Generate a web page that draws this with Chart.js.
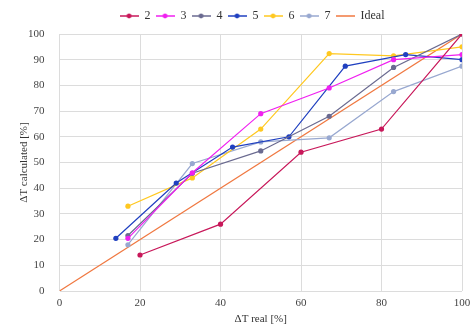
<!DOCTYPE html>
<html>
<head>
<meta charset="utf-8">
<script src="https://cdn.jsdelivr.net/npm/chart.js@4/dist/chart.umd.min.js"></script>
<style>
  html, body { margin: 0; padding: 0; background: #fff; }
  #wrap { width: 473px; height: 325px; }
</style>
</head>
<body>
<div id="wrap"><canvas id="myChart" width="473" height="325"></canvas></div>
<script>
const seriesNames = ["2", "3", "4", "5", "6", "7"];
const seriesColors = ["#c8185a", "#f020f0", "#6a6a90", "#2040c0", "#ffc820", "#98a8d0"];

const x2 = [20, 40, 60, 80, 100];
const y2 = [14, 26, 54, 63, 100];
const x3 = [17, 33, 50, 67, 83, 100];
const y3 = [20.5, 46, 69, 79, 90, 92];
const x4 = [17, 33, 50, 67, 83, 100];
const y4 = [21.6, 45.8, 54.5, 68, 87, 100];
const x5 = [14, 29, 43, 57, 71, 86, 100];
const y5 = [20.5, 42, 56, 60, 87.5, 92, 90];
const x6 = [17, 33, 50, 67, 83, 100];
const y6 = [33, 44, 63, 92.4, 91.5, 95];
const x7 = [17, 33, 50, 67, 83, 100];
const y7 = [18, 49.6, 58, 59.6, 77.6, 87.5];
const idealX = [0, 100];
const idealY = [0, 100];

const xs = [x2, x3, x4, x5, x6, x7];
const ys = [y2, y3, y4, y5, y6, y7];

function pts(xv, yv) {
  return xv.map((v, i) => ({ x: v, y: yv[i] }));
}

// little line-with-dot icon for the legend
function legendIcon(color, withDot) {
  const c = document.createElement("canvas");
  c.width = 19;
  c.height = 8;
  const g = c.getContext("2d");
  g.strokeStyle = color;
  g.lineWidth = 1.5;
  g.beginPath();
  g.moveTo(0, 4);
  g.lineTo(19, 4);
  g.stroke();
  if (withDot) {
    g.fillStyle = color;
    g.beginPath();
    g.arc(9.5, 4, 2.4, 0, Math.PI * 2);
    g.fill();
  }
  return c;
}

const datasets = seriesNames.map((name, i) => ({
  label: name,
  data: pts(xs[i], ys[i]),
  borderColor: seriesColors[i],
  backgroundColor: seriesColors[i],
  borderWidth: 1.2,
  pointRadius: 2.6,
  pointHoverRadius: 3,
  pointBorderWidth: 0,
  icon: legendIcon(seriesColors[i], true),
}));
datasets.push({
  label: "Ideal",
  data: pts(idealX, idealY),
  borderColor: "#f07840",
  backgroundColor: "#f07840",
  borderWidth: 1.2,
  pointRadius: 0,
  icon: legendIcon("#f07840", false),
});

const serif = "'Liberation Serif', 'Times New Roman', serif";

// nudge the legend so it sits over the middle of the plot, like the original
const legendNudge = {
  id: "legendNudge",
  afterLayout(chart) {
    const lg = chart.legend;
    lg.left += 12;
    lg.right += 12;
    lg.top -= 2;
    lg.bottom -= 2;
  },
};

const config = {
  type: "line",
  data: { datasets: datasets },
  options: {
    responsive: false,
    animation: false,
    layout: { padding: { left: 18, right: 11, top: 7, bottom: 0 } },
    plugins: {
      tooltip: { enabled: false },
      legend: {
        position: "top",
        labels: {
          usePointStyle: true,
          pointStyleWidth: 19,
          boxHeight: 8,
          padding: 5,
          color: "#333",
          font: { family: serif, size: 12 },
          generateLabels: (chart) =>
            chart.data.datasets.map((ds, i) => ({
              text: ds.label,
              fillStyle: ds.borderColor,
              strokeStyle: ds.borderColor,
              lineWidth: 0,
              pointStyle: ds.icon,
              datasetIndex: i,
              fontColor: "#333",
            })),
        },
      },
    },
    scales: {
      x: {
        type: "linear",
        min: 0,
        max: 100,
        ticks: { stepSize: 20, color: "#444", font: { family: serif, size: 11 }, padding: 6 },
        grid: { color: "#dcdcdc", drawTicks: false },
        border: { display: false },
        title: { display: true, text: "ΔT real [%]", color: "#333", font: { family: serif, size: 11, lineHeight: 1 }, padding: { top: 0, bottom: 0 } },
        afterFit: (scale) => {
          scale.height = 34;
          scale.paddingRight = 0;
        },
      },
      y: {
        min: 0,
        max: 100,
        ticks: { stepSize: 10, color: "#444", font: { family: serif, size: 11 }, padding: 15 },
        grid: { color: "#dcdcdc", drawTicks: false },
        border: { display: false },
        title: { display: true, text: "ΔT calculated [%]", color: "#333", font: { family: serif, size: 11 }, padding: { top: 0, bottom: 0 } },
        afterFit: (scale) => {
          scale.width = 41.5;
        },
      },
    },
  },
  plugins: [legendNudge],
};

const myChart = new Chart(document.getElementById("myChart"), config);
</script>
</body>
</html>
